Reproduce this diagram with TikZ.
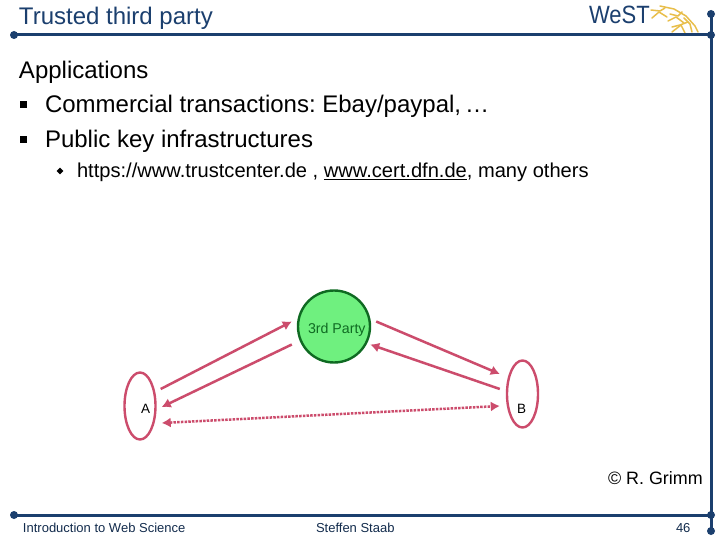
\documentclass[tikz,border=0pt]{standalone}
\usepackage{fontspec}
\setmainfont{Liberation Sans}
\usetikzlibrary{arrows.meta,shapes.geometric}
\definecolor{navy}{HTML}{1B3F6E}
\definecolor{rosy}{HTML}{CC4C6C}
\definecolor{gold}{HTML}{E8BE4A}
\definecolor{grn}{HTML}{6FF07F}
\definecolor{dgrn}{HTML}{0F6A22}
\tikzset{
 x=1pt,y=-1pt,
 rule/.style={navy,line width=3pt},
 dot/.style={circle,fill=navy,inner sep=0pt,minimum size=8pt},
 txt/.style={anchor=base west,inner sep=0pt,outer sep=0pt},
 body/.style={txt,font=\fontsize{24}{24}\selectfont},
 party/.style={draw=rosy,line width=2.4pt,ellipse,inner sep=0pt,minimum width=31pt,minimum height=67pt},
 link/.style={rosy,line width=2.5pt,-{Latex[length=9pt,width=10pt]}},
 dots/.style={rosy,line width=2.5pt,dash pattern=on 2.5pt off 1.2pt,{Latex[length=9pt,width=10pt]}-{Latex[length=9pt,width=10pt]}},
 feather/.style={gold,line width=1.5pt,line cap=round,line join=round}
}
\begin{document}
\frenchspacing
\begin{tikzpicture}
\useasboundingbox (0,0) rectangle (720,540);
\fill[white] (0,0) rectangle (720,540);
% logo artwork sits under the rule
\begin{scope}[feather]
\draw (660,6) -- (674,9) -- (686,16) -- (695,26) -- (698,32);
\draw (651,10) -- (660,11) -- (665,8);
\draw (652,18) -- (659,12) -- (667,17);
\draw (670,14) -- (678,16) -- (682,12);
\draw (668,21) -- (676,17) -- (684,23);
\draw (684,18) -- (690,24) -- (692,32);
\draw (672,27) -- (680,25) -- (688,22);
\draw (672,32) -- (681,25) -- (685,33);
\end{scope}
% frame
\coordinate (tl) at (14,35); \coordinate (tr) at (711,35);
\coordinate (tt) at (711,14); \coordinate (bl) at (14,515); \coordinate (br) at (711,515);\coordinate (bb) at (711,531);
\draw[rule] (tl) -- (tr);
\draw[rule] (bl) -- (br);
\draw[rule] (tt) -- (bb);
\node[dot] (d1) at (tl) {};
\node[dot] (d2) at (tr) {};
\node[dot] (d3) at (tt) {};
\node[dot] (d4) at (bl) {};
\node[dot] (d5) at (br) {};
\node[dot] (d6) at (bb) {};
% title
\node[txt,navy,font=\fontsize{24}{24}\selectfont] (title) at (19,25) {Trusted third party};
% logo
\node[txt,navy,font=\fontsize{25}{25}\selectfont,xscale=0.88] (logo) at (589,24) {WeST};
% body
\node[body] (l1) at (19,79) {Applications};
\node[txt] (b1) at (20,108) {\rule{7pt}{7pt}};
\node[body] (l2) at (45,113) {Commercial transactions: Ebay/paypal,\,\ldots};
\node[txt] (b2) at (20,143) {\rule{7pt}{7pt}};
\node[body] (l3) at (45,148) {Public key infrastructures};
\node[diamond,fill=black,inner sep=0pt,minimum size=7pt] (b3) at (60,171) {};
\node[txt,font=\fontsize{20.1}{20.1}\selectfont] (l4) at (77,178) {https://www.trustcenter.de , \underline{www.cert.dfn.de}, many others};
% diagram
\node[circle,draw=dgrn,fill=grn,line width=2.4pt,minimum size=72pt,inner sep=0pt] (c) at (334,326.5) {};
\node[txt,text=dgrn,font=\fontsize{14.2}{14.2}\selectfont] (cl) at (308,333) {3rd Party};
\node[party] (A) at (140,406) {};
\node[party] (B) at (522.5,394) {};
\node[txt,font=\fontsize{13.5}{13.5}\selectfont] (al) at (141,413) {A};
\node[txt,font=\fontsize{13.5}{13.5}\selectfont] (bl2) at (517,413) {B};
\draw[link] ([xshift=4pt,yshift=17pt]A.east) -- ([xshift=-5pt,yshift=5pt]c.west);
\draw[link] ([xshift=-5pt,yshift=-18pt]c.west) -- ([xshift=5pt,yshift=-1pt]A.east);
\draw[link] ([xshift=5pt,yshift=5pt]c.east) -- ([xshift=-6pt,yshift=20pt]B.west);
\draw[link] ([xshift=-6pt,yshift=5pt]B.west) -- ([xshift=-1pt,yshift=-18pt]c.east);
\draw[dots] ([xshift=5pt,yshift=-17pt]A.east) -- ([xshift=-6pt,yshift=-12pt]B.west);
% credit & footer
\node[txt,font=\fontsize{17.9}{17.9}\selectfont] (cr) at (608,484) {© R. Grimm};
\node[txt,navy!70!black,font=\fontsize{13}{13}\selectfont] (f1) at (23,532) {Introduction to Web Science};
\node[txt,navy!70!black,font=\fontsize{13}{13}\selectfont] (f2) at (316,532) {Steffen Staab};
\node[txt,navy!70!black,font=\fontsize{13}{13}\selectfont] (f3) at (676,532) {46};
\end{tikzpicture}
\end{document}
